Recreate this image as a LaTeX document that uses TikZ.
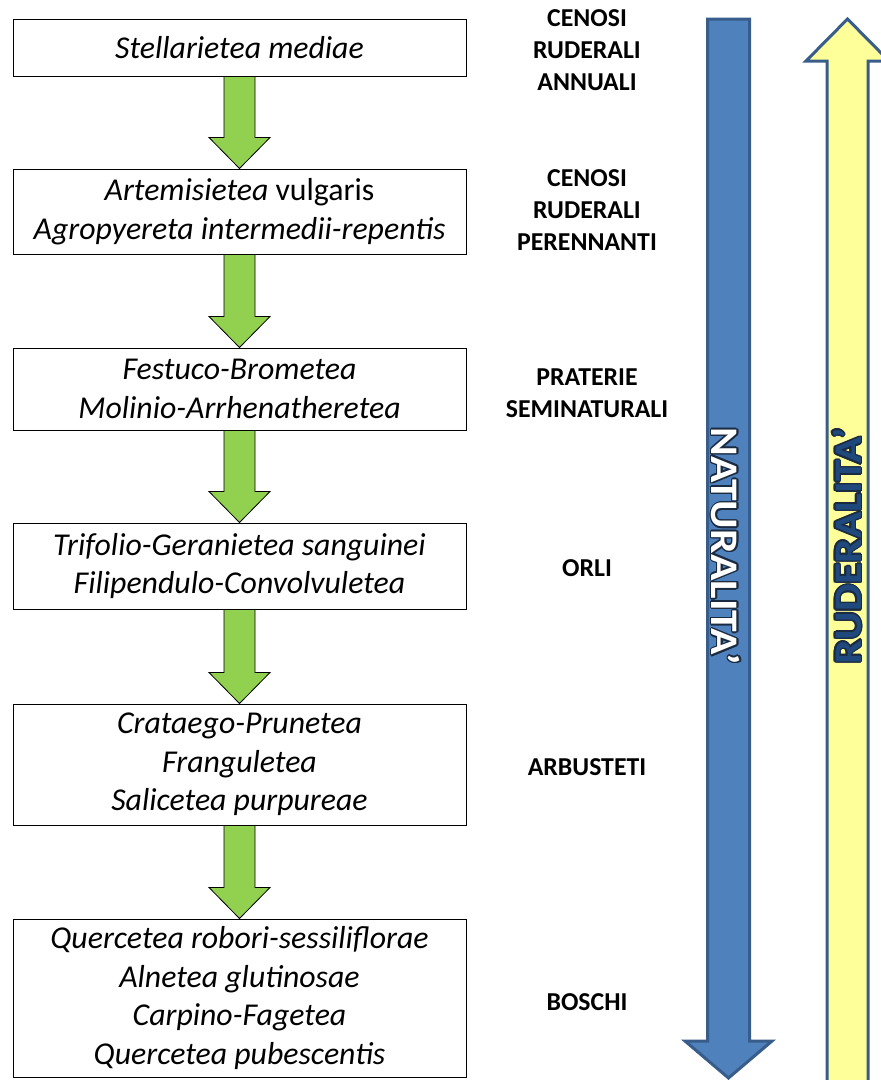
\documentclass[tikz,border=0pt]{standalone}
\usepackage{fontspec}
\setmainfont{Carlito}
\usetikzlibrary{calc}
\definecolor{flowgreen}{HTML}{92D050}
\definecolor{arrblue}{HTML}{4F81BD}
\definecolor{arrstroke}{HTML}{385D8A}
\definecolor{arryellow}{HTML}{FFFF99}
\definecolor{darknavy}{HTML}{1F497D}
\definecolor{outlinecol}{HTML}{1A2A40}
\newcommand\flowarrow[2]{%
  \draw[greenarr] let \p1=(#1.south), \p2=(#2.north) in
    (\x1-15.5pt,\y1) -- (\x1+15.5pt,\y1) -- (\x1+15.5pt,\y2+31pt) -- (\x1+30.5pt,\y2+31pt)
    -- (\x1,\y2) -- (\x1-30.5pt,\y2+31pt) -- (\x1-15.5pt,\y2+31pt) -- cycle;}
\newcommand\outlinedtext[5]{%
  \foreach \a in {0,30,...,330}{\node[arrowtext, rotate=#3, xscale=1.12, text=outlinecol] at ($(#2)+(\a:1.5pt)$) {#5};}
  \node[arrowtext, rotate=#3, xscale=1.12, text=#4] (#1) at (#2) {#5};}
\begin{document}
\begin{tikzpicture}[x=1pt,y=-1pt,
  classbox/.style={draw=black, line width=1pt, minimum width=453pt, align=center,
    font=\fontsize{31.8}{38.5}\selectfont\itshape, inner sep=0pt},
  greenarr/.style={fill=flowgreen, draw=black, line width=0.8pt, line join=miter},
  ecolabel/.style={font=\fontsize{25.8}{32}\selectfont\bfseries, align=center},
  bigarr/.style={draw=arrstroke, line width=3pt, line join=miter},
  arrowtext/.style={font=\fontsize{39}{42}\selectfont\bfseries, inner sep=0pt},
]
\useasboundingbox (0,0) rectangle (881,1080);

% big side arrows
\draw[bigarr, fill=arrblue] (707.5,19) -- (749.5,19) -- (749.5,1041) -- (772,1041)
  -- (728.5,1078) -- (685,1041) -- (707.5,1041) -- cycle;
\draw[bigarr, fill=arryellow] (847.5,19) -- (889,61) -- (868,61) -- (868,1095)
  -- (827,1095) -- (827,61) -- (806,61) -- cycle;

\outlinedtext{nat}{726,546}{-90}{white}{NATURALITA’}
\outlinedtext{rud}{847,546}{90}{darknavy}{RUDERALITA’}

% boxes
\node[classbox, minimum height=57pt]  (b1) at (239.5,47.5)  {Stellarietea mediae};
\node[classbox, minimum height=85pt]  (b2) at (239.5,211.5) {Artemisietea {\upshape vulgaris}\\Agropyereta intermedii-repentis};
\node[classbox, minimum height=82pt]  (b3) at (239.5,389)   {Festuco-Brometea\\Molinio-Arrhenatheretea};
\node[classbox, minimum height=86pt]  (b4) at (239.5,566)   {Trifolio-Geranietea sanguinei\\Filipendulo-Convolvuletea};
\node[classbox, minimum height=121pt] (b5) at (239.5,764.5) {Crataego-Prunetea\\Franguletea\\Salicetea purpureae};
\node[classbox, minimum height=158pt] (b6) at (239.5,998)   {Quercetea robori-sessiliflorae\\Alnetea glutinosae\\Carpino-Fagetea\\Quercetea pubescentis};

% flow arrows
\flowarrow{b1}{b2}
\flowarrow{b2}{b3}
\flowarrow{b3}{b4}
\flowarrow{b4}{b5}
\flowarrow{b5}{b6}

% labels
\node[ecolabel] (l1) at (587,50)   {CENOSI\\RUDERALI\\ANNUALI};
\node[ecolabel] (l2) at (587,210)  {CENOSI\\RUDERALI\\PERENNANTI};
\node[ecolabel] (l3) at (587,393)  {PRATERIE\\SEMINATURALI};
\node[ecolabel] (l4) at (587,568)  {ORLI};
\node[ecolabel] (l5) at (587,767)  {ARBUSTETI};
\node[ecolabel] (l6) at (587,1002) {BOSCHI};
\end{tikzpicture}
\end{document}
